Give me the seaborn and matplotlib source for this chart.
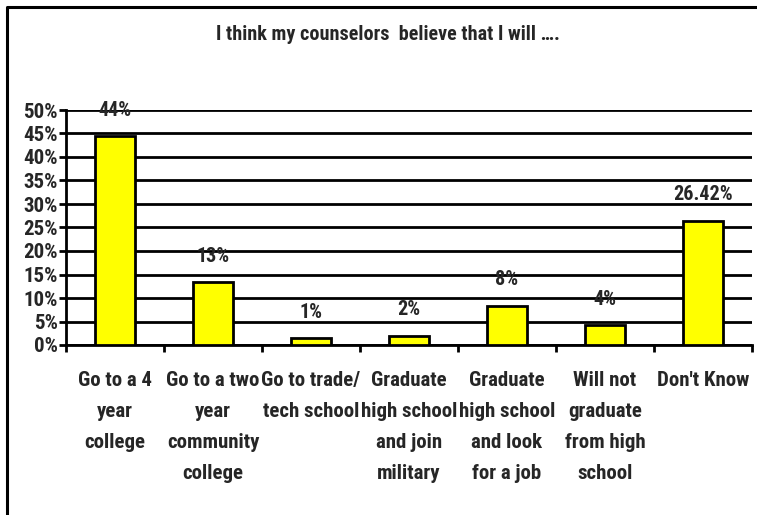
import matplotlib
matplotlib.use("Agg")
import matplotlib.pyplot as plt
from matplotlib.lines import Line2D
from matplotlib.ticker import FixedLocator, FuncFormatter
import seaborn as sns
import pandas as pd

# Survey responses
categories = [
    "Go to a 4\nyear\ncollege",
    "Go to a two\nyear\ncommunity\ncollege",
    "Go to trade/\ntech school",
    "Graduate\nhigh school\nand join\nmilitary",
    "Graduate\nhigh school\nand look\nfor a job",
    "Will not\ngraduate\nfrom high\nschool",
    "Don't Know",
]
percent = [44.4, 13.4, 1.4, 2.0, 8.3, 4.2, 26.42]
label_decimals = [0, 0, 0, 0, 0, 0, 2]
y_ticks = list(range(0, 55, 5))
title = "I think my counselors  believe that I will \u2026."

sns.set_theme(style="white")
FONT = ["Roboto Condensed", "Liberation Sans", "DejaVu Sans"]
plt.rcParams["font.family"] = FONT
plt.rcParams["font.weight"] = "bold"

W, H = 757, 515
fig = plt.figure(figsize=(W / 100, H / 100), dpi=100)
fig.patch.set_facecolor("white")
ax = fig.add_axes([66 / W, 1 - 345 / H, (752 - 66) / W, (345 - 110) / H])

df = pd.DataFrame({"category": categories, "percent": percent})
sns.barplot(data=df, x="category", y="percent", ax=ax, width=0.4,
            color="#FFFF00", edgecolor="black", linewidth=2, saturation=1,
            zorder=3)

ax.set_ylim(0, 50)
ax.set_xlim(-0.5, len(categories) - 0.5)
ax.yaxis.set_major_locator(FixedLocator(y_ticks))
ax.yaxis.set_major_formatter(FuncFormatter(lambda v, p: f"{v:.0f}%"))
ax.grid(axis="y", color="black", linewidth=2, zorder=0)
ax.grid(axis="x", visible=False)
ax.set_axisbelow(True)

for side in ("top", "right"):
    ax.spines[side].set_visible(False)
for side in ("left", "bottom"):
    ax.spines[side].set_color("black")
    ax.spines[side].set_linewidth(2)

ax.set_xlabel("")
ax.set_ylabel("")

# Tick marks between categories, labels centred under bars
ax.xaxis.set_minor_locator(FixedLocator([i - 0.5 for i in range(len(categories) + 1)]))
ax.tick_params(axis="x", which="minor", direction="out", length=5, width=2,
               color="black", bottom=True)
ax.tick_params(axis="x", which="major", length=0, pad=19, labelsize=15)
ax.tick_params(axis="y", which="major", direction="out", length=5, width=2,
               color="black", left=True, pad=1, labelsize=15)
for lab in ax.get_xticklabels():
    lab.set_linespacing(1.8)
    lab.set_fontweight("bold")
    lab.set_ha("center")
for lab in ax.get_yticklabels():
    lab.set_fontweight("bold")

for i, (v, d) in enumerate(zip(percent, label_decimals)):
    ax.annotate(f"{v:.{d}f}%", xy=(i, v), xytext=(0, 26),
                textcoords="offset pixels", ha="center", va="center",
                fontsize=14.5, fontweight="bold", annotation_clip=False)

fig.text(388 / W, 1 - 35 / H, title, ha="center", va="center",
         fontsize=14.5, fontweight="bold")

# Outer frame on the left and top edges
fig.add_artist(Line2D([7 / W, 7 / W, 1.0], [0.0, 1 - 7 / H, 1 - 7 / H],
                      transform=fig.transFigure, color="black", linewidth=2.2))

fig.savefig("out.png", dpi=100)
